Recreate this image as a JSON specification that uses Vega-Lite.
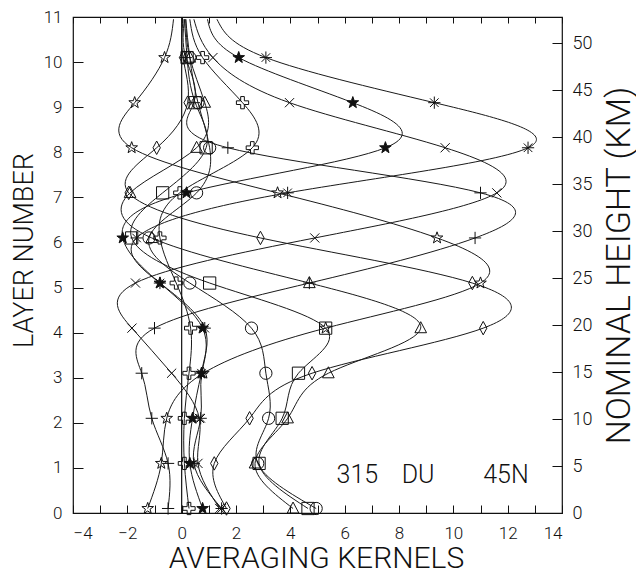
{
  "$schema": "https://vega.github.io/schema/vega-lite/v6.json",
  "width": 489,
  "height": 496,
  "autosize": {"type": "none"},
  "padding": {"left": 73, "top": 17, "right": 74, "bottom": 62},
  "background": "white",
  "config": {
    "view": {"stroke": "#111", "strokeWidth": 1.2},
    "font": "Roboto",
    "axis": {
      "grid": false,
      "domain": false,
      "tickColor": "#111",
      "tickWidth": 1,
      "labelColor": "#111",
      "titleColor": "#111",
      "labelFont": "Roboto",
      "titleFont": "Roboto",
      "labelFontWeight": 300,
      "titleFontWeight": 300,
      "labelFontSize": 18,
      "titleFontSize": 31
    }
  },
  "datasets": {
    "kernels": [
      {"k": "circle", "y": 0.1, "x": 4.95}, {"k": "circle", "y": 1.1, "x": 2.8}, {"k": "circle", "y": 2.1, "x": 3.2}, {"k": "circle", "y": 3.1, "x": 3.1}, {"k": "circle", "y": 4.1, "x": 2.57}, {"k": "circle", "y": 5.1, "x": 0.3}, {"k": "circle", "y": 6.1, "x": -1.2}, {"k": "circle", "y": 7.1, "x": 0.55}, {"k": "circle", "y": 8.1, "x": 1.03}, {"k": "circle", "y": 9.1, "x": 0.6}, {"k": "circle", "y": 10.1, "x": 0.3}, {"k": "circle", "y": 10.95, "x": 0.15},
      {"k": "square", "y": 0.1, "x": 4.65}, {"k": "square", "y": 1.1, "x": 2.85}, {"k": "square", "y": 2.1, "x": 3.7}, {"k": "square", "y": 3.1, "x": 4.3}, {"k": "square", "y": 4.1, "x": 5.3}, {"k": "square", "y": 5.1, "x": 1.03}, {"k": "square", "y": 6.1, "x": -1.84}, {"k": "square", "y": 7.1, "x": -0.7}, {"k": "square", "y": 8.1, "x": 0.9}, {"k": "square", "y": 9.1, "x": 0.5}, {"k": "square", "y": 10.1, "x": 0.2}, {"k": "square", "y": 10.95, "x": 0.1},
      {"k": "triangle", "y": 0.1, "x": 4.1}, {"k": "triangle", "y": 1.1, "x": 2.7}, {"k": "triangle", "y": 2.1, "x": 3.9}, {"k": "triangle", "y": 3.1, "x": 5.4}, {"k": "triangle", "y": 4.1, "x": 8.8}, {"k": "triangle", "y": 5.1, "x": 4.7}, {"k": "triangle", "y": 6.1, "x": -1.1}, {"k": "triangle", "y": 7.1, "x": -1.9}, {"k": "triangle", "y": 8.1, "x": 0.55}, {"k": "triangle", "y": 9.1, "x": 0.85}, {"k": "triangle", "y": 10.1, "x": 0.3}, {"k": "triangle", "y": 10.95, "x": 0.15},
      {"k": "diamond", "y": 0.1, "x": 1.65}, {"k": "diamond", "y": 1.1, "x": 1.2}, {"k": "diamond", "y": 2.1, "x": 2.5}, {"k": "diamond", "y": 3.1, "x": 4.8}, {"k": "diamond", "y": 4.1, "x": 11.1}, {"k": "diamond", "y": 5.1, "x": 10.7}, {"k": "diamond", "y": 6.1, "x": 2.9}, {"k": "diamond", "y": 7.1, "x": -1.95}, {"k": "diamond", "y": 8.1, "x": -0.92}, {"k": "diamond", "y": 9.1, "x": 0.22}, {"k": "diamond", "y": 10.1, "x": 0.05}, {"k": "diamond", "y": 10.95, "x": 0.05},
      {"k": "plus", "y": 0.1, "x": -0.5}, {"k": "plus", "y": 1.1, "x": -0.5}, {"k": "plus", "y": 2.1, "x": -1.1}, {"k": "plus", "y": 3.1, "x": -1.47}, {"k": "plus", "y": 4.1, "x": -1.0}, {"k": "plus", "y": 5.1, "x": 4.7}, {"k": "plus", "y": 6.1, "x": 10.8}, {"k": "plus", "y": 7.1, "x": 11.0}, {"k": "plus", "y": 8.1, "x": 1.7}, {"k": "plus", "y": 9.1, "x": 0.45}, {"k": "plus", "y": 10.1, "x": 0.15}, {"k": "plus", "y": 10.95, "x": 0.1},
      {"k": "cross", "y": 0.1, "x": 1.4}, {"k": "cross", "y": 1.1, "x": 0.6}, {"k": "cross", "y": 2.1, "x": 0.65}, {"k": "cross", "y": 3.1, "x": -0.37}, {"k": "cross", "y": 4.1, "x": -1.83}, {"k": "cross", "y": 5.1, "x": -1.7}, {"k": "cross", "y": 6.1, "x": 4.9}, {"k": "cross", "y": 7.1, "x": 11.6}, {"k": "cross", "y": 8.1, "x": 9.7}, {"k": "cross", "y": 9.1, "x": 3.97}, {"k": "cross", "y": 10.1, "x": 1.15}, {"k": "cross", "y": 10.95, "x": 0.45},
      {"k": "asterisk", "y": 0.1, "x": 1.47}, {"k": "asterisk", "y": 1.1, "x": 0.45}, {"k": "asterisk", "y": 2.1, "x": 0.7}, {"k": "asterisk", "y": 3.1, "x": 0.73}, {"k": "asterisk", "y": 4.1, "x": 0.85}, {"k": "asterisk", "y": 5.1, "x": -0.8}, {"k": "asterisk", "y": 6.1, "x": -1.66}, {"k": "asterisk", "y": 7.1, "x": 3.9}, {"k": "asterisk", "y": 8.1, "x": 12.75}, {"k": "asterisk", "y": 9.1, "x": 9.3}, {"k": "asterisk", "y": 10.1, "x": 3.1}, {"k": "asterisk", "y": 10.95, "x": 1.3},
      {"k": "solidstar", "y": 0.1, "x": 0.77}, {"k": "solidstar", "y": 1.1, "x": 0.3}, {"k": "solidstar", "y": 2.1, "x": 0.4}, {"k": "solidstar", "y": 3.1, "x": 0.73}, {"k": "solidstar", "y": 4.1, "x": 0.77}, {"k": "solidstar", "y": 5.1, "x": -0.8}, {"k": "solidstar", "y": 6.1, "x": -2.17}, {"k": "solidstar", "y": 7.1, "x": 0.18}, {"k": "solidstar", "y": 8.1, "x": 7.5}, {"k": "solidstar", "y": 9.1, "x": 6.3}, {"k": "solidstar", "y": 10.1, "x": 2.1}, {"k": "solidstar", "y": 10.95, "x": 0.95},
      {"k": "star", "y": 0.1, "x": -1.25}, {"k": "star", "y": 1.1, "x": -0.75}, {"k": "star", "y": 2.1, "x": -0.55}, {"k": "star", "y": 3.1, "x": 0.8}, {"k": "star", "y": 4.1, "x": 5.3}, {"k": "star", "y": 5.1, "x": 11.0}, {"k": "star", "y": 6.1, "x": 9.4}, {"k": "star", "y": 7.1, "x": 3.53}, {"k": "star", "y": 8.1, "x": -1.84}, {"k": "star", "y": 9.1, "x": -1.73}, {"k": "star", "y": 10.1, "x": -0.63}, {"k": "star", "y": 10.95, "x": -0.3},
      {"k": "greekcross", "y": 0.1, "x": 0.27}, {"k": "greekcross", "y": 1.1, "x": 0.1}, {"k": "greekcross", "y": 2.1, "x": 0.1}, {"k": "greekcross", "y": 3.1, "x": 0.27}, {"k": "greekcross", "y": 4.1, "x": 0.33}, {"k": "greekcross", "y": 5.1, "x": -0.2}, {"k": "greekcross", "y": 6.1, "x": -0.8}, {"k": "greekcross", "y": 7.1, "x": -0.07}, {"k": "greekcross", "y": 8.1, "x": 2.6}, {"k": "greekcross", "y": 9.1, "x": 2.24}, {"k": "greekcross", "y": 10.1, "x": 0.77}, {"k": "greekcross", "y": 10.95, "x": 0.3}
    ]
  },
  "layer": [
    {
      "layer": [
        {
          "data": {"name": "kernels"},
          "mark": {"type": "line", "interpolate": "natural", "stroke": "#1a1a1a", "strokeWidth": 1},
          "encoding": {
            "x": {
              "field": "x", "type": "quantitative",
              "scale": {"domain": [-4, 14], "nice": false, "zero": false},
              "axis": {
                "orient": "bottom",
                "values": [-4, -3, -2, -1, 0, 1, 2, 3, 4, 5, 6, 7, 8, 9, 10, 11, 12, 13, 14],
                "labelExpr": "datum.value % 2 == 0 ? datum.label : ''",
                "tickSize": -8,
                "labelPadding": 20,
                "labelFontSize": 17,
                "title": "AVERAGING KERNELS",
                "titleFontSize": 30,
                "titleX": 243,
                "titleY": 54,
                "titleAlign": "center",
                "titleBaseline": "alphabetic",
                "titleAngle": 0
              }
            },
            "y": {
              "field": "y", "type": "quantitative",
              "scale": {"domain": [0, 11], "nice": false, "zero": false},
              "axis": {
                "orient": "left",
                "values": [0, 1, 2, 3, 4, 5, 6, 7, 8, 9, 10, 11],
                "tickSize": -10,
                "labelPadding": 21,
                "labelFontSize": 17,
                "title": "LAYER NUMBER",
                "titleFontSize": 27,
                "titleX": -41,
                "titleY": 233,
                "titleAngle": 270,
                "titleAlign": "center",
                "titleBaseline": "alphabetic"
              }
            },
            "detail": {"field": "k"},
            "order": {"field": "y", "type": "quantitative"}
          }
        },
        {
          "data": {"name": "kernels"},
          "transform": [{"filter": "datum.y < 10.5"}],
          "mark": {"type": "point", "filled": true, "opacity": 1, "stroke": "#111", "strokeWidth": 1, "size": 150},
          "encoding": {
            "x": {
              "field": "x", "type": "quantitative",
              "axis": {
                "orient": "top",
                "values": [-4, -3, -2, -1, 0, 1, 2, 3, 4, 5, 6, 7, 8, 9, 10, 11, 12, 13, 14],
                "labels": false,
                "tickSize": -6,
                "title": null
              }
            },
            "y": {"field": "y", "type": "quantitative", "axis": null},
            "shape": {
              "field": "k", "type": "nominal", "legend": null,
              "scale": {
                "domain": ["circle", "square", "triangle", "diamond", "plus", "cross", "asterisk", "solidstar", "star", "greekcross"],
                "range": [
                  "circle",
                  "square",
                  "M0,-1.05L0.95,0.75L-0.95,0.75Z",
                  "M0,-1.1L0.6,0L0,1.1L-0.6,0Z",
                  "M-1,0L1,0M0,-1L0,1",
                  "M-0.75,-0.75L0.75,0.75M-0.75,0.75L0.75,-0.75",
                  "M-1,0L1,0M0,-1L0,1M-0.7,-0.7L0.7,0.7M-0.7,0.7L0.7,-0.7",
                  "M0,-1L0.235,-0.324L0.951,-0.309L0.38,0.124L0.588,0.809L0,0.4L-0.588,0.809L-0.38,0.124L-0.951,-0.309L-0.235,-0.324Z",
                  "M0,-1L0.235,-0.324L0.951,-0.309L0.38,0.124L0.588,0.809L0,0.4L-0.588,0.809L-0.38,0.124L-0.951,-0.309L-0.235,-0.324Z",
                  "M-0.3,-1L0.3,-1L0.3,-0.3L1,-0.3L1,0.3L0.3,0.3L0.3,1L-0.3,1L-0.3,0.3L-1,0.3L-1,-0.3L-0.3,-0.3Z"
                ]
              }
            },
            "fill": {
              "field": "k", "type": "nominal", "legend": null,
              "scale": {
                "domain": ["circle", "square", "triangle", "diamond", "plus", "cross", "asterisk", "solidstar", "star", "greekcross"],
                "range": ["transparent", "transparent", "transparent", "transparent", "transparent", "transparent", "transparent", "#111", "transparent", "transparent"]
              }
            }
          }
        },
        {
          "data": {"values": [{}]},
          "mark": {"type": "rule", "stroke": "#111", "strokeWidth": 1.2},
          "encoding": {
            "x": {"datum": 0, "type": "quantitative", "axis": null}
          }
        },
        {
          "data": {"values": [{}]},
          "mark": {"type": "text", "align": "left", "baseline": "middle", "font": "Roboto", "fontWeight": 300, "fontSize": 25, "color": "#111"},
          "encoding": {
            "x": {"datum": 5.7, "type": "quantitative", "axis": null},
            "y": {"datum": 0.84, "type": "quantitative", "axis": null},
            "text": {"value": "315"}
          }
        },
        {
          "data": {"values": [{}]},
          "mark": {"type": "text", "align": "left", "baseline": "middle", "font": "Roboto", "fontWeight": 300, "fontSize": 25, "color": "#111"},
          "encoding": {
            "x": {"datum": 8.1, "type": "quantitative", "axis": null},
            "y": {"datum": 0.84, "type": "quantitative", "axis": null},
            "text": {"value": "DU"}
          }
        },
        {
          "data": {"values": [{}]},
          "mark": {"type": "text", "align": "left", "baseline": "middle", "font": "Roboto", "fontWeight": 300, "fontSize": 25, "color": "#111"},
          "encoding": {
            "x": {"datum": 11.1, "type": "quantitative", "axis": null},
            "y": {"datum": 0.84, "type": "quantitative", "axis": null},
            "text": {"value": "45N"}
          }
        }
      ],
      "resolve": {"axis": {"x": "independent", "y": "independent"}}
    },
    {
      "data": {"values": [{"km": 0}]},
      "mark": {"type": "point", "opacity": 0},
      "encoding": {
        "y": {
          "field": "km", "type": "quantitative",
          "scale": {"domain": [0, 52.8], "nice": false, "zero": false},
          "axis": {
            "orient": "right",
            "values": [0, 5, 10, 15, 20, 25, 30, 35, 40, 45, 50],
            "tickSize": -10,
            "labelPadding": 20,
            "title": "NOMINAL HEIGHT (KM)",
            "titleFontSize": 34,
            "titleX": 67,
            "titleY": 248,
            "titleAngle": 270,
            "titleAlign": "center",
            "titleBaseline": "alphabetic"
          }
        }
      }
    }
  ],
  "resolve": {"scale": {"y": "independent"}, "axis": {"y": "independent"}}
}
